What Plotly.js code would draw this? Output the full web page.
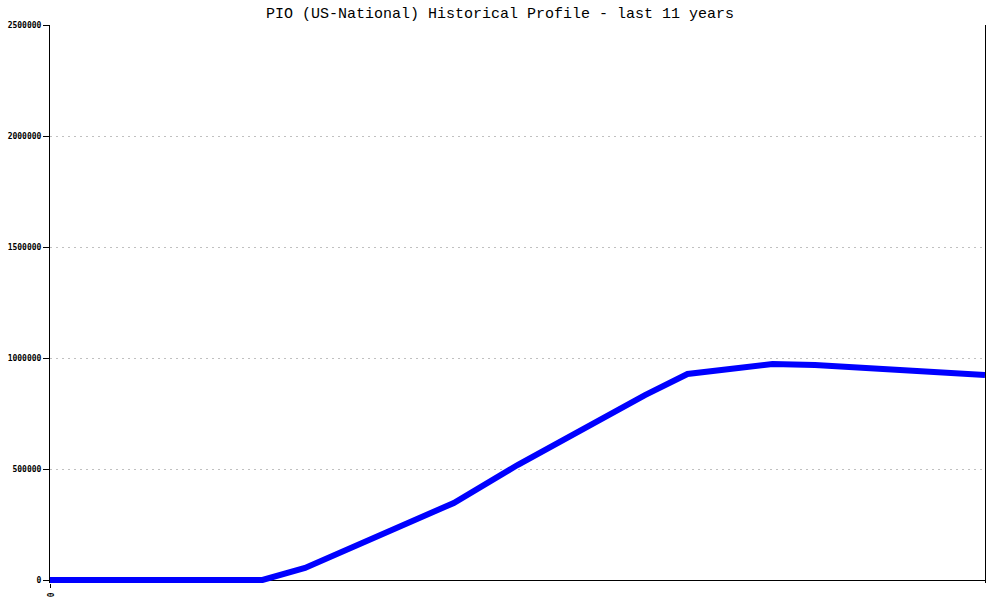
<!DOCTYPE html>
<html>
<head>
<meta charset="utf-8">
<script src="https://cdn.plot.ly/plotly-3.0.1.min.js"></script>
<style>html,body{margin:0;padding:0;background:#fff}#chart{width:1000px;height:600px}</style>
</head>
<body>
<div id="chart"></div>
<script>
// month index over the last 11 years
const monthIndex = [0, 30, 36, 57, 66, 72, 84, 90, 102, 108, 132];
const profileValues = [0, 0, 54000, 347000, 518000, 623000, 833000, 928000, 973000, 968000, 923000];
const yTickVals = [0, 500000, 1000000, 1500000, 2000000, 2500000];
const yTickText = ['0', '500000', '1000000', '1500000', '2000000', '2500000'];
const xTickVals = [0];
const xTickText = ['0'];
const chartTitle = 'PIO (US-National) Historical Profile - last 11 years';

const trace = {
  x: monthIndex,
  y: profileValues,
  type: 'scatter',
  mode: 'lines',
  line: {color: '#0000ff', width: 6},
  hoverinfo: 'skip'
};

const tickFont = {family: 'DejaVu Sans Mono', size: 8, color: '#000', weight: 'bold'};

const layout = {
  width: 1000, height: 600,
  margin: {l: 50, r: 15, t: 25, b: 17, pad: 0},
  paper_bgcolor: '#fff', plot_bgcolor: '#fff',
  showlegend: false,
  title: {
    text: chartTitle,
    font: {family: 'Liberation Mono', size: 15, color: '#000'},
    x: 0.5, xanchor: 'center', xref: 'container',
    y: 1, yref: 'container', yanchor: 'top',
    pad: {t: 7}
  },
  xaxis: {
    range: [0, 132],
    tickvals: xTickVals, ticktext: xTickText,
    tickangle: 90,
    ticks: 'outside', ticklen: 4, tickcolor: '#000',
    ticklabelstandoff: 3,
    tickfont: tickFont,
    showgrid: false, zeroline: false, showline: false,
    fixedrange: true
  },
  yaxis: {
    range: [-13514, 2500000],
    tickvals: yTickVals, ticktext: yTickText,
    ticks: 'outside', ticklen: 6, tickcolor: '#000',
    tickfont: tickFont,
    showline: true, linecolor: '#000', linewidth: 1, mirror: true,
    showgrid: true, gridcolor: '#c0c0c0', gridwidth: 1, griddash: '2px,4px',
    zeroline: true, zerolinecolor: '#000', zerolinewidth: 1,
    fixedrange: true
  }
};

Plotly.newPlot('chart', [trace], layout, {displayModeBar: false, staticPlot: true});
</script>
</body>
</html>
